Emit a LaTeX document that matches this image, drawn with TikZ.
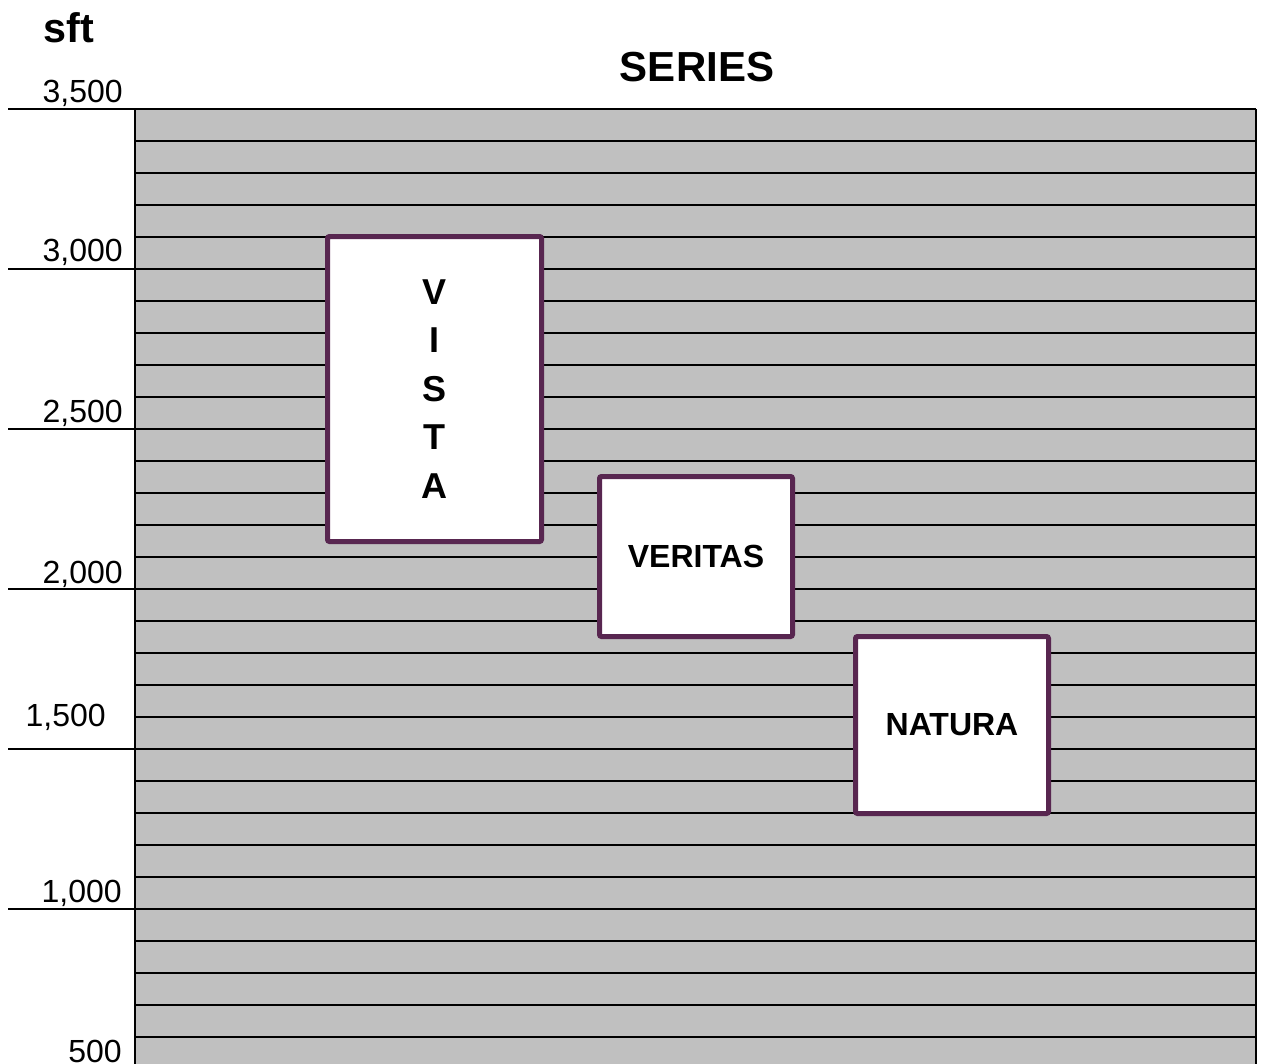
\documentclass[tikz,border=0pt]{standalone}
\usepackage{fontspec}
\setmainfont{Liberation Sans}
\usetikzlibrary{positioning}
\definecolor{boxpurple}{RGB}{88,38,80}
\definecolor{plotgray}{RGB}{192,192,192}

\begin{document}
\begin{tikzpicture}[x=0.75pt,y=-0.75pt,
    seriesbox/.style={draw=boxpurple,line width=3.75pt,fill=white,rounded corners=1.5pt,
      inner sep=0pt,align=center,font=\bfseries\fontsize{24}{36}\selectfont},
    ticklabel/.style={anchor=base east,inner sep=0pt,font=\fontsize{24}{24}\selectfont}]
    \useasboundingbox (0,0) rectangle (1261,1064);
    % plot area
    \fill[plotgray] (135,109) rectangle (1256,1064);
    \foreach \y in {109,141,...,1064}
        \draw[line width=1.5pt] (135,\y) -- (1256,\y);
    \foreach \y in {109,269,...,909}
        \draw[line width=1.5pt] (8,\y) -- (135,\y);
    \draw[line width=2pt] (135,109) -- (135,1064);
    \draw[line width=2pt] (1256,109) -- (1256,1064);
    % axis
    \node[anchor=base west,inner sep=0pt,font=\bfseries\fontsize{31}{31}\selectfont] (unit) at (43,42) {sft};
    \node[anchor=base,inner sep=0pt,font=\bfseries\fontsize{31.5}{31.5}\selectfont] (title) at (697,81) {SERIES};
    \node[ticklabel] (l3500) at (123,102) {3,500};
    \node[ticklabel] (l3000) at (123,261) {3,000};
    \node[ticklabel] (l2500) at (123,422) {2,500};
    \node[ticklabel] (l2000) at (123,583) {2,000};
    \node[ticklabel] (l1500) at (106,726) {1,500};
    \node[ticklabel] (l1000) at (122,902) {1,000};
    \node[ticklabel] (l500) at (122,1062) {500};
    % series
    \node[seriesbox,minimum width=160.5pt,minimum height=228.75pt,
          font=\bfseries\fontsize{27}{36.4}\selectfont] (vista) at (434.5,389) {V\\I\\S\\T\\A};
    \node[seriesbox,minimum width=144.75pt,minimum height=120pt] (veritas) at (696,556.5) {VERITAS};
    \node[seriesbox,minimum width=144.75pt,minimum height=132.75pt] (natura) at (952,725) {NATURA};
\end{tikzpicture}
\end{document}
